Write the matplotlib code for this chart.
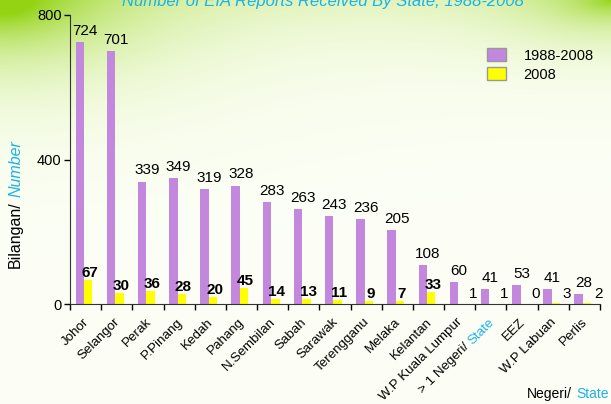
import numpy as np
import matplotlib.pyplot as plt
from matplotlib.patches import Patch

plt.rcParams['font.family'] = ['Liberation Sans', 'DejaVu Sans']

# data
states = ['Johor', 'Selangor', 'Perak', 'P.Pinang', 'Kedah', 'Pahang', 'N.Sembilan',
          'Sabah', 'Sarawak', 'Terengganu', 'Melaka', 'Kelantan', 'W.P Kuala Lumpur',
          '> 1 Negeri/ State', 'EEZ', 'W.P Labuan', 'Perlis']
total_1988_2008 = [724, 701, 339, 349, 319, 328, 283, 263, 243, 236, 205, 108, 60, 41, 53, 41, 28]
year_2008 = [67, 30, 36, 28, 20, 45, 14, 13, 11, 9, 7, 33, 1, 1, 0, 3, 2]

PURPLE = '#c387de'
YELLOW = '#ffff00'
CYAN = '#1cb2e6'

W, H = 611, 404
fig = plt.figure(figsize=(W / 100, H / 100), dpi=100)

# background gradient (green corners fading to white)
bg = fig.add_axes([0, 0, 1, 1], zorder=-10)
yy, xx = np.mgrid[0:H, 0:W].astype(float)
w = (np.exp(-np.sqrt((xx / 90) ** 2 + (yy / 45) ** 2)) * 1.15
     + 0.22 * np.exp(-yy / 45)
     + 0.75 * np.exp(-np.sqrt(((W - xx) / 60) ** 2 + (yy / 25) ** 2)))
w = np.clip(w, 0, 1)[..., None]
white = np.array([0.99, 1.0, 0.965])
green = np.array([0.58, 0.83, 0.08])
bg.imshow(white * (1 - w) + green * w, aspect='auto', extent=[0, W, 0, H])
bg.set_axis_off()

ax = fig.add_axes([70 / W, 1 - 304 / H, 530 / W, 289 / H])
ax.set_facecolor('none')

x = np.arange(len(states))
bw = 0.27
ax.bar(x - bw / 2 - 0.05, total_1988_2008, bw, color=PURPLE, zorder=2)
ax.bar(x + bw / 2 - 0.05, year_2008, bw, color=YELLOW, zorder=2)

for i, (a, b) in enumerate(zip(total_1988_2008, year_2008)):
    ax.annotate(str(a), (i - 0.02, a), xytext=(0, 3), textcoords='offset points',
                ha='center', va='bottom', fontsize=11)
    if i >= 12:
        ax.annotate(str(b), (i + bw + 0.08, 0), xytext=(2, 2), textcoords='offset points',
                    ha='center', va='bottom', fontsize=11)
    else:
        ax.annotate(str(b), (i + bw / 2, b), xytext=(0, 0), textcoords='offset points',
                    ha='center', va='bottom', fontsize=11, fontweight='bold')

ax.set_xlim(-0.5, len(states) - 0.5)
ax.set_ylim(0, 800)
ax.set_yticks([0, 400, 800])
ax.tick_params(axis='y', labelsize=10.5, length=4, width=1, pad=2)
ax.set_xticks(np.arange(len(states) + 1) - 0.5)
ax.set_xticklabels([])
ax.tick_params(axis='x', length=4, width=1)
for s in ['top', 'right']:
    ax.spines[s].set_visible(False)
for s in ['left', 'bottom']:
    ax.spines[s].set_color('#333333')

renderer = fig.canvas.get_renderer()


def text_width(s, **kw):
    t = fig.text(0, 0, s, **kw)
    wd = t.get_window_extent(renderer).width
    t.remove()
    return wd


def draw_segments(px, py, segments, rotation, align_right=True, **kw):
    # segments: list of (text, color, style); drawn end to end along rotation
    ang = np.deg2rad(rotation)
    d = np.array([np.cos(ang), np.sin(ang)])
    sp = text_width('a a', **kw) - text_width('aa', **kw)
    widths = []
    for k, (s, c, st) in enumerate(segments):
        wd = text_width(s, style=st, **kw)
        if k < len(segments) - 1:
            wd += sp
        widths.append(wd)
    pos = np.array([px, py], float)
    if align_right:
        pos -= d * sum(widths)
    for (s, c, st), wd in zip(segments, widths):
        fig.text(pos[0], pos[1], s, color=c, style=st, rotation=rotation,
                 rotation_mode='anchor', ha='left', va='top', transform=None, **kw)
        pos += d * wd


# x tick labels, rotated 45 degrees
y0 = ax.transAxes.transform((0, 0))[1]
for i, name in enumerate(states):
    px = ax.transData.transform((i, 0))[0] - 3
    if name.endswith('State'):
        segs = [('> 1 Negeri/', 'black', 'normal'), ('State', CYAN, 'normal')]
    else:
        segs = [(name, 'black', 'normal')]
    draw_segments(px, y0 - 12, segs, 45, fontsize=9.6)

# axis labels
draw_segments(8, H - 268, [('Bilangan/', 'black', 'normal'), ('Number', CYAN, 'italic')],
              90, align_right=False, fontsize=11.5)
draw_segments(527, 17, [('Negeri/', 'black', 'normal'), ('State', CYAN, 'normal')],
              0, align_right=False, fontsize=10)

# title, cut off at the top edge
fig.text(0.528, 1 - 6 / H, 'Number of EIA Reports Received By State, 1988-2008',
         color=CYAN, style='italic', fontsize=12, ha='center', va='baseline')

handles = [Patch(facecolor=PURPLE, edgecolor='#999999', label='1988-2008'),
           Patch(facecolor=YELLOW, edgecolor='#999999', label='2008')]
ax.legend(handles=handles, frameon=False, loc='upper left', fontsize=10.5,
          bbox_to_anchor=(474 / W, 1 - 35 / H), bbox_transform=fig.transFigure,
          handlelength=1.3, handleheight=1.0, handletextpad=1.2, labelspacing=0.3)

fig.savefig('out.png', dpi=100)
